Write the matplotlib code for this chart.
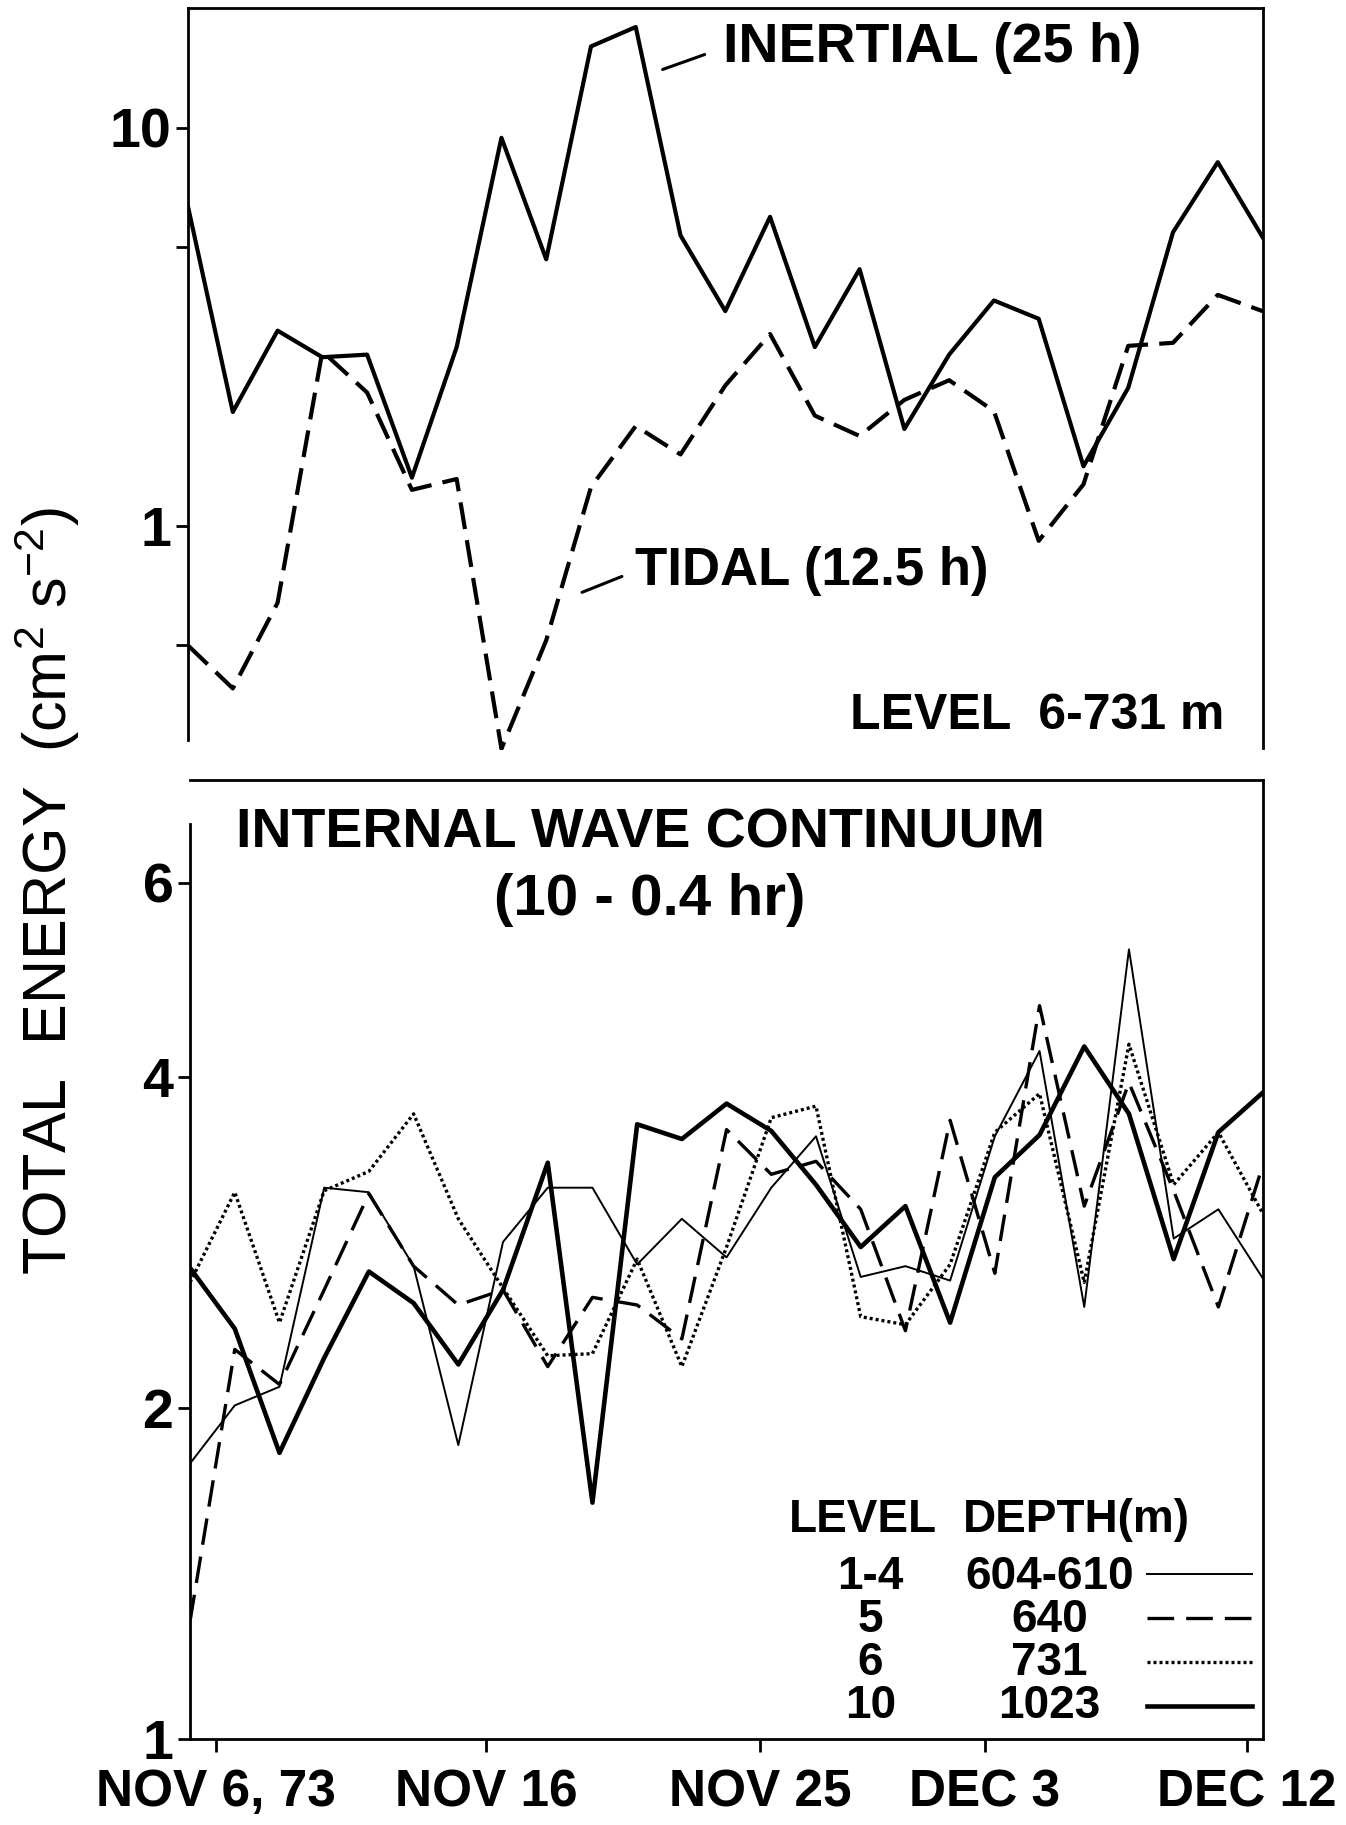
import matplotlib
matplotlib.use('Agg')
import matplotlib.pyplot as plt
from matplotlib.ticker import NullLocator
import numpy as np

plt.rcParams['font.family'] = ['Liberation Sans', 'DejaVu Sans']
plt.rcParams['mathtext.default'] = 'regular'

''' values read off the figure, one sample per drawn vertex (25 samples) '''

# upper panel, level 6 (731 m)
inertial = [6.33, 1.93, 3.09, 2.65, 2.69, 1.32, 2.81, 9.43, 4.67, 16.0, 17.9, 5.36, 3.46,
            5.97, 2.81, 4.41, 1.75, 2.69, 3.68, 3.31, 1.41, 2.22, 5.46, 8.19, 5.31]
tidal = [0.50, 0.39, 0.64, 2.74, 2.16, 1.23, 1.31, 0.275, 0.515, 1.25, 1.78, 1.51, 2.25,
         3.03, 1.89, 1.68, 2.07, 2.32, 1.94, 0.916, 1.27, 2.83, 2.88, 3.80, 3.46]

# lower panel, internal wave continuum
lev_1_4 = [1.78, 2.01, 2.09, 3.17, 3.14, 2.69, 1.85, 2.83, 3.17, 3.17, 2.70, 2.97, 2.74,
           3.17, 3.53, 2.63, 2.69, 2.61, 3.53, 4.22, 2.47, 5.22, 2.85, 3.03, 2.62]
lev_5 = [1.28, 2.26, 2.10, 2.56, 3.13, 2.69, 2.48, 2.56, 2.18, 2.52, 2.48, 2.31, 3.58,
         3.26, 3.35, 3.03, 2.35, 3.65, 2.65, 4.64, 3.05, 3.95, 3.15, 2.47, 3.33]
lev_6 = [2.60, 3.14, 2.39, 3.15, 3.28, 3.70, 2.97, 2.57, 2.23, 2.24, 2.73, 2.18, 2.80,
         3.67, 3.76, 2.42, 2.38, 2.70, 3.56, 3.86, 2.60, 4.28, 3.19, 3.56, 3.00]
lev_10 = [2.68, 2.36, 1.82, 2.22, 2.66, 2.49, 2.19, 2.56, 3.34, 1.64, 3.62, 3.51, 3.78,
          3.57, 3.19, 2.80, 3.05, 2.39, 3.24, 3.54, 4.26, 3.70, 2.73, 3.56, 3.87]

levels = ['1-4', '5', '6', '10']
depths = ['604-610', '640', '731', '1023']

# date ticks, expressed in sample index units
date_labels = ['NOV 6, 73', 'NOV 16', 'NOV 25', 'DEC 3', 'DEC 12']
date_ticks = [0.59, 6.63, 12.75, 17.78, 23.64]

x = np.arange(len(inertial))

''' plotting '''

fig = plt.figure(figsize=(13.46, 18.25), dpi=100)
ax1 = fig.add_axes([0.1397, 0.589, 0.7983, 0.4067])
ax2 = fig.add_axes([0.1412, 0.0471, 0.7972, 0.5255])

bold = dict(fontweight='bold', color='black')

# upper panel
ax1.plot(x, inertial, color='black', lw=3.0)
ax1.plot(x, tidal, color='black', lw=3.0, dashes=(6.5, 2.7))
ax1.set_yscale('log')
ax1.set_xlim(0, 24)
ax1.set_ylim(0.273, 20)
ax1.set_yticks([0.5, 1, 5, 10], ['', '1', '', '10'])
ax1.yaxis.set_minor_locator(NullLocator())
ax1.set_xticks([])
ax1.spines['bottom'].set_visible(False)
ax1.spines['left'].set_bounds(0.289, 20)
ax1.spines['right'].set_bounds(0.277, 20)

ax1.annotate('INERTIAL (25 h)', xy=(10.6, 14.0), xytext=(0.498, 0.946),
             textcoords='axes fraction', ha='left', va='center', fontsize=40,
             arrowprops=dict(arrowstyle='-', lw=2.2, color='black',
                             relpos=(0, 0.5), shrinkA=12, shrinkB=0), **bold)
ax1.annotate('TIDAL (12.5 h)', xy=(8.8, 0.68), xytext=(0.416, 0.241),
             textcoords='axes fraction', ha='left', va='center', fontsize=38,
             arrowprops=dict(arrowstyle='-', lw=2.2, color='black',
                             relpos=(0, 0.5), shrinkA=8, shrinkB=0), **bold)
ax1.text(0.616, 0.046, 'LEVEL  6-731 m', transform=ax1.transAxes, fontsize=36,
         va='center', ha='left', **bold)

# lower panel
l1, = ax2.plot(x, lev_1_4, color='black', lw=1.4)
l2, = ax2.plot(x, lev_5, color='black', lw=2.4, dashes=(8.0, 3.6))
l3, = ax2.plot(x, lev_6, color='black', lw=2.4, dashes=(0.9, 0.9))
l4, = ax2.plot(x, lev_10, color='black', lw=3.3)
ax2.set_yscale('log')
ax2.set_xlim(0, 24)
ax2.set_ylim(1, 7.44)
ax2.set_yticks([1, 2, 4, 6], ['1', '2', '4', '6'])
ax2.yaxis.set_minor_locator(NullLocator())
ax2.set_xticks(date_ticks, date_labels)
for t in ax2.get_xticklabels():
    t.set_fontsize(37)
    t.set_fontweight('bold')
ax2.spines['left'].set_bounds(1, 6.78)

ax2.text(0.420, 0.944, 'INTERNAL WAVE CONTINUUM', transform=ax2.transAxes,
         fontsize=40, ha='center', va='center', **bold)
ax2.text(0.428, 0.875, '(10 - 0.4 hr)', transform=ax2.transAxes,
         fontsize=42, ha='center', va='center', **bold)

# legend table
ax2.text(0.558, 0.228, 'LEVEL', transform=ax2.transAxes, fontsize=33,
         ha='left', va='center', **bold)
ax2.text(0.720, 0.228, 'DEPTH(m)', transform=ax2.transAxes, fontsize=33,
         ha='left', va='center', **bold)
for k, (lv, dp) in enumerate(zip(levels, depths)):
    yy = 0.169 - k * 0.0447
    ax2.text(0.634, yy, lv, transform=ax2.transAxes, fontsize=33,
             ha='center', va='center', **bold)
    ax2.text(0.801, yy, dp, transform=ax2.transAxes, fontsize=33,
             ha='center', va='center', **bold)
ax2.legend(handles=[l1, l2, l3, l4], labels=[''] * 4, loc='upper left',
           bbox_to_anchor=(0.892, 0.1856), frameon=False, fontsize=10,
           handlelength=7.56, handleheight=4.5, labelspacing=0,
           handletextpad=0, borderpad=0, borderaxespad=0)

for ax in (ax1, ax2):
    for s in ax.spines.values():
        s.set_linewidth(2.0)
    ax.tick_params(axis='y', which='major', direction='out', length=9, width=2,
                   labelsize=40, pad=3)
    for t in ax.get_yticklabels():
        t.set_fontweight('bold')
ax2.tick_params(axis='x', direction='out', length=9, width=2, pad=12)

fig.text(0.035, 0.512, 'TOTAL  ENERGY  (cm$^2$ s$^{-2}$)', rotation=90,
         fontsize=44, ha='center', va='center')

fig.savefig('out.png', dpi=100)
